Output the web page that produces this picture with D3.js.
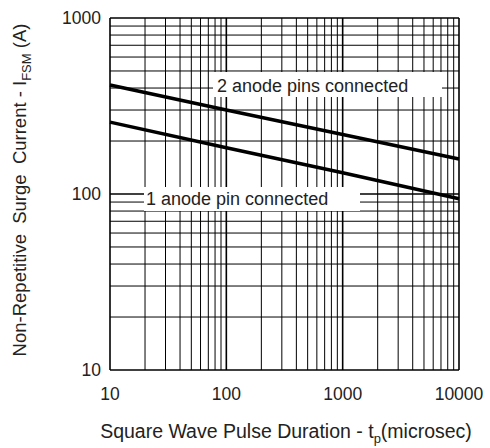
<!DOCTYPE html>
<html>
<head>
<meta charset="utf-8">
<script src="https://cdn.jsdelivr.net/npm/d3@7"></script>
<style>
  body { margin: 0; background: #fff; }
  text { font-family: Arial, "Liberation Sans", sans-serif; fill: #222; white-space: pre; }
</style>
</head>
<body>
<div id="chart"></div>
<script>
const width = 490, height = 448;
const margin = {left: 110, right: 31, top: 18, bottom: 78};

// data
const pulseUs = [10, 100, 1000, 10000];
const twoPins = [416, 300, 218, 158];
const onePin = [256, 183, 132, 94];
const xTicks = [10, 100, 1000, 10000];
const yTicks = [10, 100, 1000];

const labelTwo = "2 anode pins connected";
const labelOne = "1 anode pin connected";

var svg = d3.select("#chart").append("svg")
    .attr("width", width)
    .attr("height", height);

x = d3.scaleLog().domain([10, 10000]).range([margin.left, width - margin.right]);
y = d3.scaleLog().domain([10, 1000]).range([height - margin.bottom, margin.top]);

// grid values: 1..9 in each decade
function gridVals(lo, hi) {
    var out = [];
    for (var d = lo; d < hi; d *= 10) {
        d3.range(1, 10).forEach(k => out.push(k * d));
    }
    out.push(hi);
    return out;
}
isDecade = v => Math.abs(Math.log10(v) - Math.round(Math.log10(v))) < 1e-9;

grid = svg.append("g");
grid.selectAll(".vx").data(gridVals(10, 10000))
    .join("line")
    .attr("x1", d => x(d)).attr("x2", d => x(d))
    .attr("y1", y(1000)).attr("y2", y(10))
    .attr("stroke", "#000")
    .attr("stroke-width", d => isDecade(d) ? 1.6 : 1);
grid.selectAll(".hy").data(gridVals(10, 1000))
    .join("line")
    .attr("y1", d => y(d)).attr("y2", d => y(d))
    .attr("x1", x(10)).attr("x2", x(10000))
    .attr("stroke", "#000")
    .attr("stroke-width", d => isDecade(d) ? 1.6 : 1);

// label boxes (white, hide grid beneath)
function boxLabel(txt, tx, ty, bx, by, bw, bh) {
    svg.append("rect").attr("x", bx).attr("y", by).attr("width", bw).attr("height", bh).attr("fill", "#fff");
    svg.append("text").attr("x", tx).attr("y", ty).attr("font-size", 18).text(txt);
}
boxLabel(labelTwo, 217, 92, 213, 72, 229, 25);
boxLabel(labelOne, 146, 205, 144, 187, 216, 24);

// curves
line = d3.line().x(d => x(d[0])).y(d => y(d[1]));
[twoPins, onePin].forEach(s => {
    svg.append("path")
        .datum(pulseUs.map((p, i) => [p, s[i]]))
        .attr("d", line)
        .attr("fill", "none")
        .attr("stroke", "#000")
        .attr("stroke-width", 3.5);
});

// tick labels
svg.selectAll(".xt").data(xTicks).join("text")
    .attr("x", d => x(d)).attr("y", 400)
    .attr("text-anchor", "middle").attr("font-size", 17.5)
    .text(d => d);
svg.selectAll(".yt").data(yTicks).join("text")
    .attr("x", 101).attr("y", d => y(d) + 6)
    .attr("text-anchor", "end").attr("font-size", 17.5)
    .text(d => d);

// axis titles
xt = svg.append("text").attr("x", 286).attr("y", 438)
    .attr("text-anchor", "middle").attr("font-size", 19.5);
xt.append("tspan").text("Square Wave Pulse Duration - t");
xt.append("tspan").attr("font-size", 13).attr("dy", 5).text("p");
xt.append("tspan").attr("dy", -5).text("(microsec)");

yt = svg.append("text")
    .attr("transform", "translate(26,190) rotate(-90)")
    .attr("text-anchor", "middle").attr("font-size", 18.5);
yt.append("tspan").text("Non-Repetitive  Surge  Current - I");
yt.append("tspan").attr("font-size", 13).attr("dy", 5).text("FSM");
yt.append("tspan").attr("dy", -5).text(" (A)");
</script>
</body>
</html>
